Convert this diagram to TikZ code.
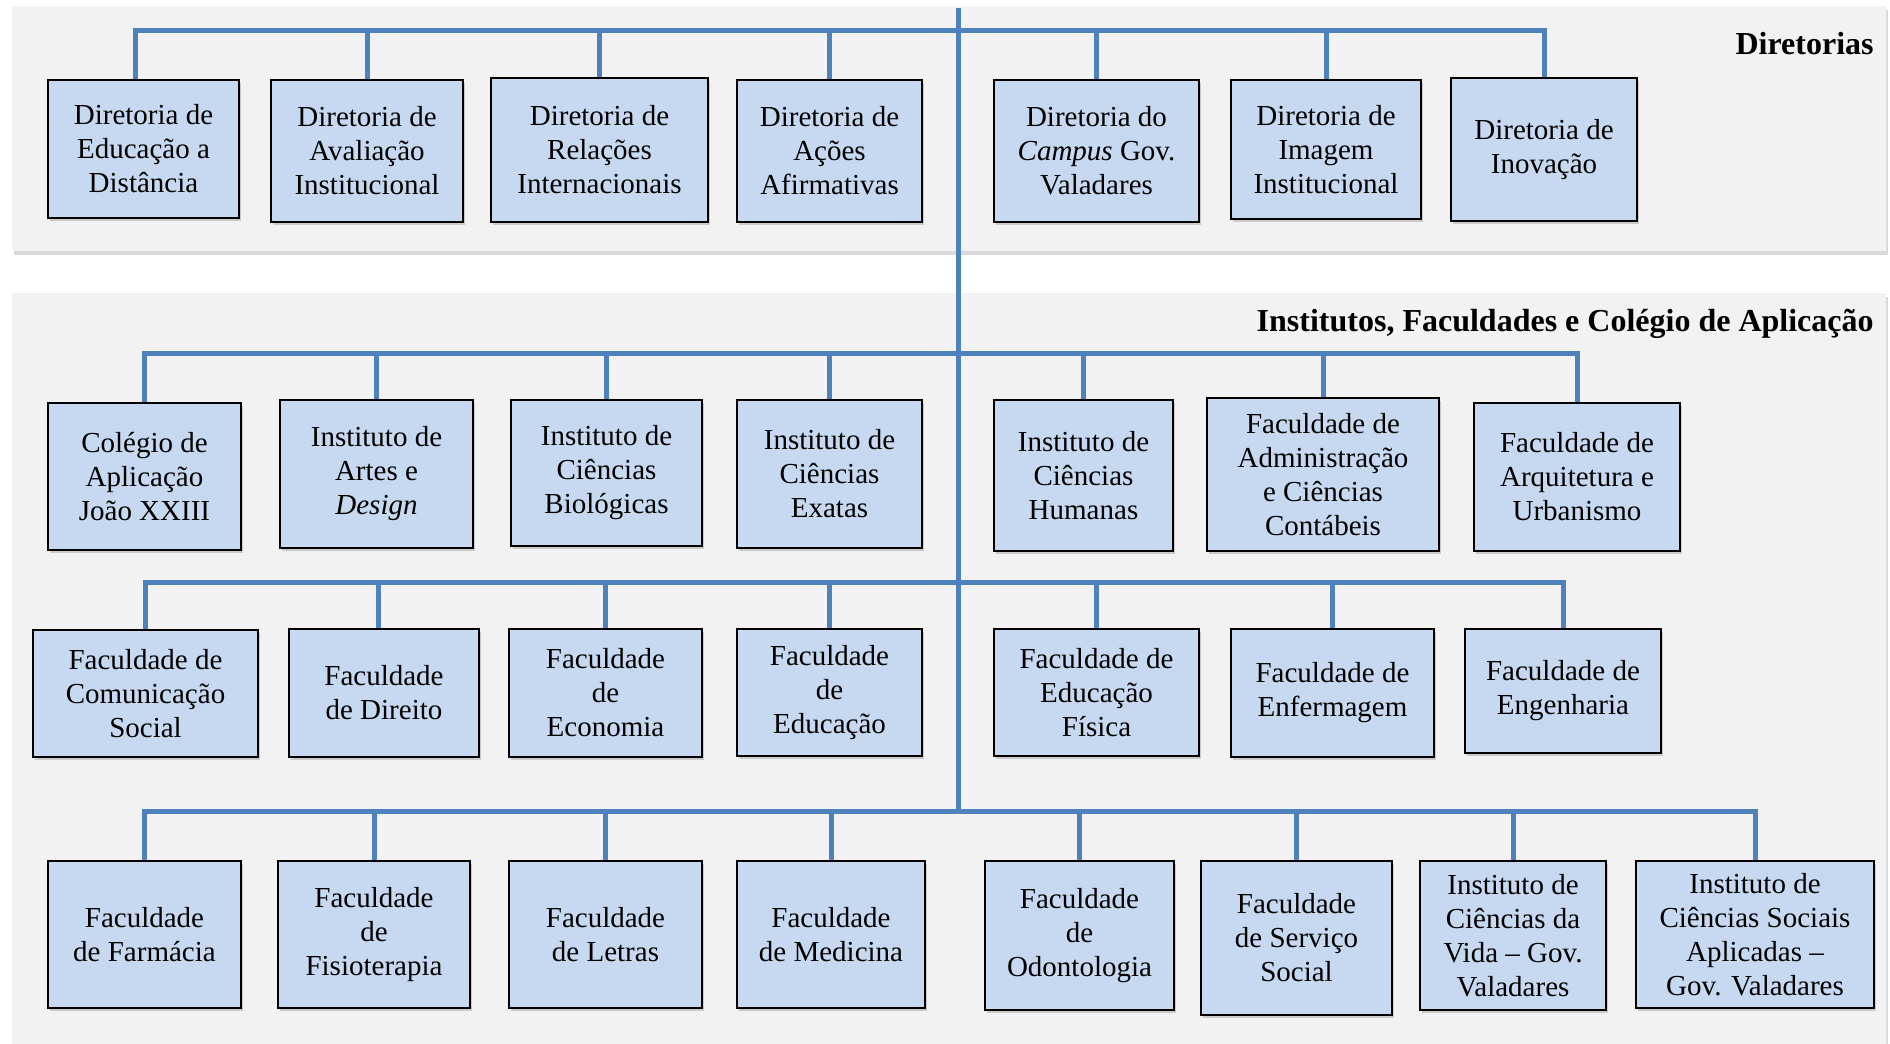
\documentclass[tikz,border=0pt]{standalone}
\usepackage{fontspec}
\setmainfont{Liberation Serif}
\usetikzlibrary{shadows}
\definecolor{boxblue}{HTML}{C6D9F1}
\definecolor{linkblue}{HTML}{4F81BD}
\definecolor{panelgray}{HTML}{F2F2F2}
\tikzstyle{unit} = [rectangle, draw=black, line width=1pt, fill=boxblue, align=center, inner sep=2pt, font=\fontsize{14.5}{17}\selectfont, drop shadow={shadow xshift=1pt, shadow yshift=-1.5pt, opacity=0.35}]
\tikzstyle{link} = [draw=linkblue, line width=2.5pt]
\tikzstyle{panel} = [fill=panelgray, drop shadow={shadow xshift=1pt, shadow yshift=-2pt, opacity=0.3}]
\tikzstyle{heading} = [anchor=east, inner sep=0pt, font=\fontsize{16}{19}\selectfont\bfseries]

\begin{document}
\begin{tikzpicture}[x=0.5pt, y=-0.5pt]
  \useasboundingbox (0,0) rectangle (1890,1044);

  % fundos
  \path[panel] (12,6) rectangle (1886,251);
  \path[panel] (12,293) rectangle (1886,1050);
  \node[heading] (hdir) at (1874,44) {Diretorias};
  \node[heading] (hinst) at (1874,324) {Institutos, Faculdades e Colégio de Aplicação};

  % tronco
  \coordinate (top) at (958,8);
  \coordinate (r1) at (958,30);
  \coordinate (r2) at (958,353);
  \coordinate (r3) at (958,582);
  \coordinate (r4) at (958,811);
  \draw[link] (top) -- (r4);

  % diretorias
  \node[unit, minimum width=95.5pt, minimum height=69pt] (d1) at (143.5,149) {Diretoria de\\Educação a\\Distância};
  \node[unit, minimum width=96pt, minimum height=71pt] (d2) at (367,151) {Diretoria de\\Avaliação\\Institucional};
  \node[unit, minimum width=108.5pt, minimum height=72pt] (d3) at (599.5,150) {Diretoria de\\Relações\\Internacionais};
  \node[unit, minimum width=92.5pt, minimum height=71pt] (d4) at (829.5,151) {Diretoria de\\Ações\\Afirmativas};
  \node[unit, minimum width=102.5pt, minimum height=71pt] (d5) at (1096.5,151) {Diretoria do\\\textit{Campus} Gov.\\Valadares};
  \node[unit, minimum width=95pt, minimum height=69.5pt] (d6) at (1326,149.5) {Diretoria de\\Imagem\\Institucional};
  \node[unit, minimum width=93pt, minimum height=71.5pt] (d7) at (1544,149.5) {Diretoria de\\Inovação};

  % institutos e faculdades
  \node[unit, minimum width=96.5pt, minimum height=73.5pt] (i1) at (144.5,476.5) {Colégio de\\Aplicação\\João XXIII};
  \node[unit, minimum width=96.5pt, minimum height=74pt] (i2) at (376.5,474) {Instituto de\\Artes e\\\textit{Design}};
  \node[unit, minimum width=95.5pt, minimum height=73pt] (i3) at (606.5,473) {Instituto de\\Ciências\\Biológicas};
  \node[unit, minimum width=92.5pt, minimum height=74pt] (i4) at (829.5,474) {Instituto de\\Ciências\\Exatas};
  \node[unit, minimum width=89.5pt, minimum height=75.5pt] (i5) at (1083.5,475.5) {Instituto de\\Ciências\\Humanas};
  \node[unit, minimum width=116pt, minimum height=76.5pt] (i6) at (1323,474.5) {Faculdade de\\Administração\\e Ciências\\Contábeis};
  \node[unit, minimum width=103pt, minimum height=74pt] (i7) at (1577,477) {Faculdade de\\Arquitetura e\\Urbanismo};

  \node[unit, minimum width=112.5pt, minimum height=63.5pt] (f1) at (145.5,693.5) {Faculdade de\\Comunicação\\Social};
  \node[unit, minimum width=95pt, minimum height=64pt] (f2) at (384,693) {Faculdade\\de Direito};
  \node[unit, minimum width=96.5pt, minimum height=64pt] (f3) at (605.5,693) {Faculdade\\de\\Economia};
  \node[unit, minimum width=92.5pt, minimum height=63.5pt] (f4) at (829.5,692.5) {Faculdade\\de\\Educação};
  \node[unit, minimum width=102.5pt, minimum height=63.5pt] (f5) at (1096.5,692.5) {Faculdade de\\Educação\\Física};
  \node[unit, minimum width=101.5pt, minimum height=64pt] (f6) at (1332.5,693) {Faculdade de\\Enfermagem};
  \node[unit, minimum width=98pt, minimum height=62pt] (f7) at (1563,691) {Faculdade de\\Engenharia};

  \node[unit, minimum width=96.5pt, minimum height=73.5pt] (g1) at (144.5,934.5) {Faculdade\\de Farmácia};
  \node[unit, minimum width=96pt, minimum height=73.5pt] (g2) at (374,934.5) {Faculdade\\de\\Fisioterapia};
  \node[unit, minimum width=96.5pt, minimum height=73.5pt] (g3) at (605.5,934.5) {Faculdade\\de Letras};
  \node[unit, minimum width=94pt, minimum height=73.5pt] (g4) at (831,934.5) {Faculdade\\de Medicina};
  \node[unit, minimum width=94.5pt, minimum height=74.5pt] (g5) at (1079.5,935.5) {Faculdade\\de\\Odontologia};
  \node[unit, minimum width=95.5pt, minimum height=77pt] (g6) at (1296.5,938) {Faculdade\\de Serviço\\Social};
  \node[unit, minimum width=93pt, minimum height=74.5pt] (g7) at (1513,935.5) {Instituto de\\Ciências da\\Vida – Gov.\\Valadares};
  \node[unit, minimum width=119pt, minimum height=73.5pt] (g8) at (1755,934.5) {Instituto de\\Ciências Sociais\\Aplicadas –\\Gov. Valadares};

  % ligações
  \draw[link] ([xshift=-4pt]d1.north) |- (r1);
  \draw[link] (d2.north) |- (r1);
  \draw[link] (d3.north) |- (r1);
  \draw[link] (d4.north) |- (r1);
  \draw[link] (d5.north) |- (r1);
  \draw[link] (d6.north) |- (r1);
  \draw[link] (d7.north) |- (r1);

  \draw[link] (i1.north) |- (r2);
  \draw[link] (i2.north) |- (r2);
  \draw[link] (i3.north) |- (r2);
  \draw[link] (i4.north) |- (r2);
  \draw[link] (i5.north) |- (r2);
  \draw[link] (i6.north) |- (r2);
  \draw[link] (i7.north) |- (r2);

  \draw[link] (f1.north) |- (r3);
  \draw[link] ([xshift=-3pt]f2.north) |- (r3);
  \draw[link] (f3.north) |- (r3);
  \draw[link] (f4.north) |- (r3);
  \draw[link] (f5.north) |- (r3);
  \draw[link] (f6.north) |- (r3);
  \draw[link] (f7.north) |- (r3);

  \draw[link] (g1.north) |- (r4);
  \draw[link] (g2.north) |- (r4);
  \draw[link] (g3.north) |- (r4);
  \draw[link] (g4.north) |- (r4);
  \draw[link] (g5.north) |- (r4);
  \draw[link] (g6.north) |- (r4);
  \draw[link] (g7.north) |- (r4);
  \draw[link] (g8.north) |- (r4);
\end{tikzpicture}
\end{document}
